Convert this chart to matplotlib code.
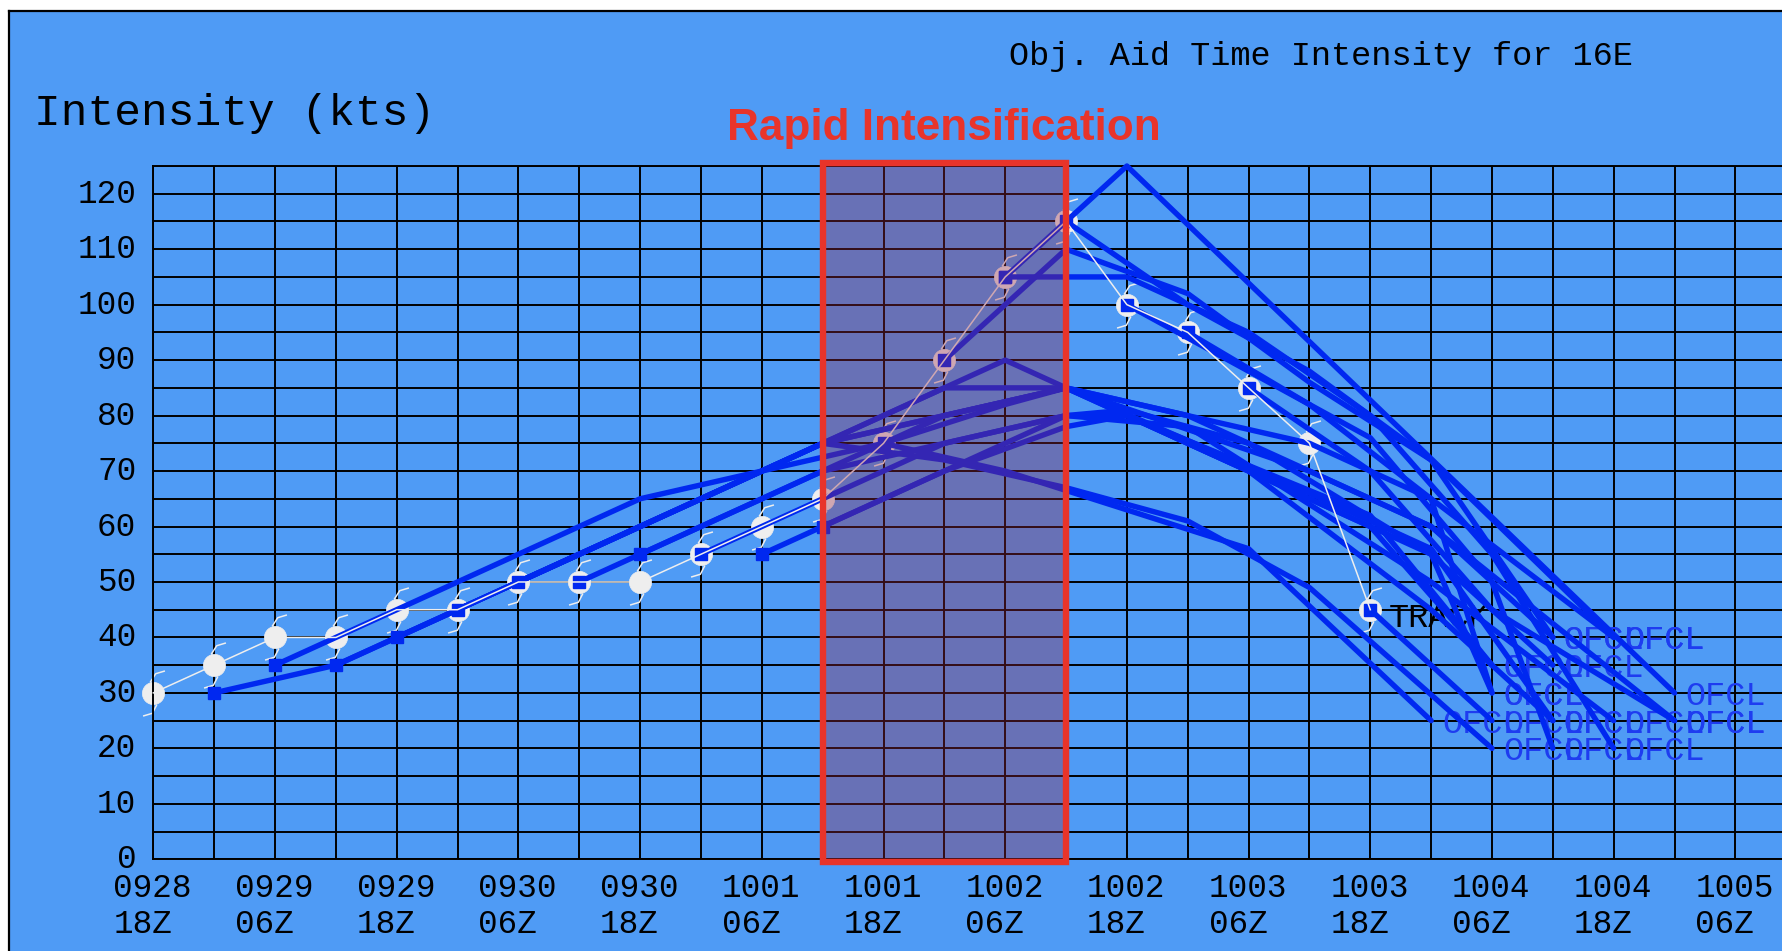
import matplotlib
matplotlib.use("Agg")
import matplotlib.pyplot as plt
from matplotlib.patches import Rectangle
from matplotlib.path import Path
from matplotlib.lines import Line2D
import matplotlib.transforms as mtransforms

W, H, DPI = 1783, 951, 100

# ---------------- data ----------------
# x axis: 6-hourly steps starting 0928 18Z
x_tick_top = ["0928", "0929", "0929", "0930", "0930", "1001", "1001",
              "1002", "1002", "1003", "1003", "1004", "1004", "1005"]
x_tick_bot = ["18Z", "06Z", "18Z", "06Z", "18Z", "06Z", "18Z",
              "06Z", "18Z", "06Z", "18Z", "06Z", "18Z", "06Z"]
y_tick_vals = [0, 10, 20, 30, 40, 50, 60, 70, 80, 90, 100, 110, 120]

# best track (6-hourly)
bt_step = [0, 1, 2, 3, 4, 5, 6, 7, 8, 9, 10, 11, 12, 13, 14, 15, 16, 17, 18, 19, 20]
bt_kts = [30, 35, 40, 40, 45, 45, 50, 50, 50, 55, 60, 65, 75, 90, 105, 115, 100, 95, 85, 75, 45]

# official forecasts: (steps, intensities)
fc01_step = [1, 3, 5, 7, 9, 11, 14, 18, 20, 22]
fc01_kts = [30, 35, 45, 55, 65, 75, 90, 70, 60, 35]
fc02_step = [2, 4, 6, 8, 10, 12, 14, 15, 19, 21, 23]
fc02_kts = [35, 45, 55, 65, 70, 75, 82, 85, 66, 56, 25]
fc03_step = [3, 5, 7, 9, 11, 13, 15, 17, 19, 22]
fc03_kts = [35, 45, 55, 65, 75, 72, 67, 61, 49, 20]
fc04_step = [4, 6, 8, 10, 11, 13, 15, 19, 21, 23]
fc04_kts = [40, 50, 60, 70, 75, 85, 85, 70, 60, 40]
fc05_step = [5, 7, 9, 11, 15, 19, 21, 24]
fc05_kts = [45, 55, 65, 75, 85, 75, 65, 40]
fc06_step = [6, 8, 10, 11, 13, 15, 21, 23]
fc06_kts = [50, 60, 70, 75, 80, 85, 55, 35]
fc07_step = [7, 9, 11, 13, 15, 17, 21, 25]
fc07_kts = [50, 60, 70, 80, 85, 80, 60, 25]
fc08_step = [8, 10, 11, 15, 16, 20, 22]
fc08_kts = [55, 65, 70, 80, 80, 62, 35]
fc09_step = [9, 11, 13, 15, 17, 21, 24]
fc09_kts = [55, 65, 75, 80, 78, 50, 25]
fc10_step = [10, 11, 15, 16, 18, 21, 22]
fc10_kts = [55, 60, 80, 81, 75, 55, 30]
fc11_step = [11, 13, 15, 16, 18, 21, 23]
fc11_kts = [60, 70, 78, 80, 70, 45, 25]
fc12_step = [12, 14, 16, 18, 21]
fc12_kts = [75, 70, 63, 56, 25]
fc13_step = [13, 15, 17, 19, 21, 23]
fc13_kts = [90, 110, 102, 86, 72, 40]
fc14a_step = [14, 16, 25]
fc14a_kts = [105, 125, 30]
fc14b_step = [14, 16, 18, 20, 22, 24]
fc14b_kts = [105, 105, 95, 80, 55, 20]
fc15_step = [15, 17, 19, 21, 24]
fc15_kts = [115, 100, 88, 72, 40]
fc16_step = [16, 18, 20, 22, 23]
fc16_kts = [100, 88, 76, 50, 20]
fc17_step = [17, 19, 21, 22]
fc17_kts = [95, 82, 65, 30]
fc18_step = [18, 20, 22, 25]
fc18_kts = [85, 70, 45, 25]
fc20_step = [20, 22]
fc20_kts = [45, 25]

forecasts = [
    (fc01_step, fc01_kts), (fc02_step, fc02_kts), (fc03_step, fc03_kts),
    (fc04_step, fc04_kts), (fc05_step, fc05_kts), (fc06_step, fc06_kts),
    (fc07_step, fc07_kts), (fc08_step, fc08_kts), (fc09_step, fc09_kts),
    (fc10_step, fc10_kts), (fc11_step, fc11_kts), (fc12_step, fc12_kts),
    (fc13_step, fc13_kts), (fc14a_step, fc14a_kts), (fc14b_step, fc14b_kts),
    (fc15_step, fc15_kts), (fc16_step, fc16_kts), (fc17_step, fc17_kts),
    (fc18_step, fc18_kts), (fc20_step, fc20_kts),
]

ri_start, ri_end = 11, 15   # rapid intensification window (steps)

# ---------------- styles ----------------
BG = "#4F9BF5"
LINE = "#0028F0"
MONO = "Liberation Mono"

fig = plt.figure(figsize=(W / DPI, H / DPI), dpi=DPI, facecolor="white")

def px(x):
    return x / W

def py(y):
    return 1 - y / H

# background panel with black left/top border
fig.add_artist(Rectangle((px(8.6), 0), 1, py(11), transform=fig.transFigure,
                         facecolor=BG, edgecolor="none", zorder=0))
fig.add_artist(Line2D([px(8.6), px(8.6)], [0, py(11)], transform=fig.transFigure,
                      color="black", lw=1.6, zorder=1))
fig.add_artist(Line2D([px(8.6), 1], [py(11), py(11)], transform=fig.transFigure,
                      color="black", lw=1.6, zorder=1))

x0px, y0px, ytop_px = 153.3, 859.3, 166.0
cell = 60.85
xmax = (W - x0px) / cell
ax = fig.add_axes([px(x0px), py(y0px), 1 - px(x0px), (y0px - ytop_px) / H])
ax.set_facecolor(BG)
ax.set_xlim(0, xmax)
ax.set_ylim(0, 125)
ax.set_xticks(range(0, 27))
ax.set_yticks(range(0, 126, 5))
ax.tick_params(length=0, labelbottom=False, labelleft=False)
ax.grid(True, color="black", lw=1.4, zorder=0.5)
ax.set_axisbelow(True)
for s in ["left", "bottom", "top"]:
    ax.spines[s].set_color("black")
    ax.spines[s].set_linewidth(1.4)
ax.spines["right"].set_visible(False)

# tick labels
for i, (t1, t2) in enumerate(zip(x_tick_top, x_tick_bot)):
    xs = 2 * i
    ax.annotate(t1, xy=(xs, 0), xytext=(-40, -37.4), textcoords="offset pixels",
                ha="left", va="baseline", fontsize=23.5, family=MONO, color="black",
                annotation_clip=False)
    ax.annotate(t2, xy=(xs, 0), xytext=(-40, -74), textcoords="offset pixels",
                ha="left", va="baseline", fontsize=23.5, family=MONO, color="black",
                annotation_clip=False)
for v in y_tick_vals:
    ax.annotate(str(v), xy=(0, v), xytext=(-17, -9), textcoords="offset pixels",
                ha="right", va="baseline", fontsize=23.5, family=MONO, color="black",
                annotation_clip=False)

# titles
fig.text(px(1009), py(65), "Obj. Aid Time Intensity for 16E", ha="left", va="baseline",
         fontsize=24.2, family=MONO, color="black")
fig.text(px(34), py(125), "Intensity (kts)", ha="left", va="baseline",
         fontsize=32, family=MONO, color="black")

# best track line and symbols
ax.plot(bt_step, bt_kts, color="#EEEEEE", lw=1.1, zorder=3.2, clip_on=False)
ax.plot(bt_step, bt_kts, ls="none", marker="o", ms=16, mfc="#EEEEEE", mec="#EEEEEE",
        mew=0.5, zorder=2, clip_on=False)
tail = Path([(-0.3, 1.0), (0.2, 1.78), (1.03, 2.03),
             (0.3, -1.0), (-0.1, -1.78), (-0.94, -2.03)],
            [Path.MOVETO, Path.LINETO, Path.LINETO,
             Path.MOVETO, Path.LINETO, Path.LINETO])
ax.plot(bt_step, bt_kts, ls="none", marker=tail, ms=16 * 2.03, mfc="none",
        mec="#EEEEEE", mew=1.1, zorder=2, clip_on=False)
ax.annotate("TRACK", xy=(bt_step[-1], bt_kts[-1]), xytext=(18, -17),
            textcoords="offset pixels", ha="left", va="baseline", fontsize=24.2,
            family=MONO, color="black", zorder=2.5)

# forecasts
for steps, kts in forecasts:
    ax.plot(steps, kts, color=LINE, lw=3.9, solid_capstyle="round",
            solid_joinstyle="round", zorder=3, clip_on=False,
            marker="s", markevery=[0], ms=8.5, mfc=LINE, mec=LINE)
    if steps[-1] <= 25:
        ax.annotate("OFCL", xy=(steps[-1], kts[-1]), xytext=(11, -12),
                    textcoords="offset pixels", ha="left", va="baseline",
                    fontsize=24.2, family=MONO, color="#1E3CF0", zorder=2.5,
                    annotation_clip=False)

# rapid intensification box
ax.add_patch(Rectangle((ri_start, -0.5), ri_end - ri_start, 126,
                       facecolor="#972542", alpha=0.35, edgecolor="none",
                       zorder=4, clip_on=False))
ax.add_patch(Rectangle((ri_start, -0.5), ri_end - ri_start, 126,
                       facecolor="none", edgecolor="#E8342A", lw=4.6,
                       zorder=5, clip_on=False, joinstyle="miter"))
ri_trans = mtransforms.blended_transform_factory(ax.transData, fig.transFigure)
ax.text((ri_start + ri_end) / 2, py(140), "Rapid Intensification",
        transform=ri_trans, ha="center", va="baseline",
        fontsize=31.8, fontweight="bold", family="Liberation Sans", color="#E8342A")

fig.savefig("out.png", dpi=DPI, facecolor="white")
